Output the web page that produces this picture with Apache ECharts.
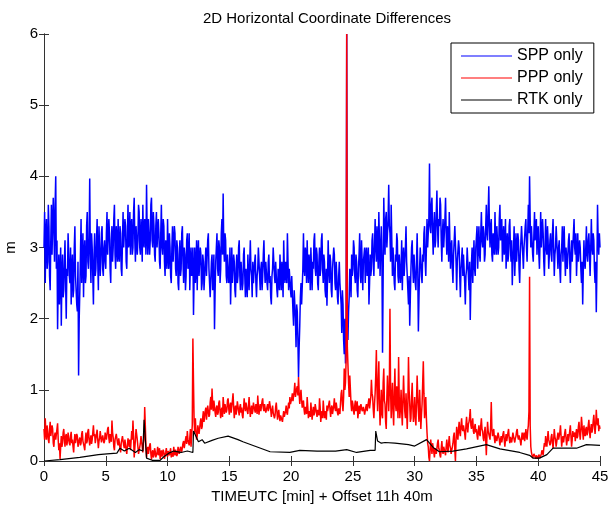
<!DOCTYPE html>
<html>
<head>
<meta charset="utf-8">
<script src="https://cdn.jsdelivr.net/npm/echarts@6/dist/echarts.min.js"></script>
<style>
  html, body { margin: 0; padding: 0; background: #fff; }
  #Chart1 { width: 611px; height: 510px; }
</style>
</head>
<body>
<div id="Chart1"></div>
<script>
// 2D horizontal coordinate differences, samples every 0.05 min (one row per minute)
var sampleStep = 0.05;

var sppValues = [
  3.0, 3.5, 2.5, 3.2, 3.4, 2.7, 2.8, 3.6, 3.3, 2.6, 2.4, 3.1, 3.6, 2.9, 2.9, 3.7, 3.3, 2.8, 3.6, 4.0,
  2.7, 3.1, 1.85, 2.5, 2.9, 2.2, 2.2, 3.0, 1.9, 2.6, 2.9, 2.3, 2.4, 2.8, 3.1, 2.5, 2.0, 2.7, 2.6, 3.2,
  3.2, 2.6, 2.5, 3.0, 2.2, 2.7, 2.9, 2.3, 2.4, 3.0, 3.3, 2.6, 2.6, 2.2, 2.1, 2.8, 1.2, 2.0, 2.4, 2.9,
  3.4, 2.5, 2.8, 3.2, 2.3, 2.9, 3.1, 2.5, 2.6, 3.3, 3.5, 2.8, 2.7, 3.1, 3.97, 2.9, 2.5, 3.2, 3.0, 2.6,
  2.2, 2.9, 3.2, 2.6, 2.7, 3.1, 3.4, 2.8, 2.4, 3.3, 3.0, 2.6, 2.8, 3.2, 3.3, 2.7, 2.6, 3.0, 3.1, 2.8,
  2.7, 3.2, 3.5, 2.9, 2.9, 3.4, 3.2, 2.7, 2.5, 3.1, 3.3, 2.8, 3.0, 3.4, 3.6, 2.9, 2.7, 3.3, 3.1, 2.8,
  3.4, 2.9, 2.8, 3.3, 3.2, 2.7, 2.6, 3.1, 3.5, 3.0, 3.0, 3.4, 3.3, 2.8, 2.7, 3.2, 3.6, 3.0, 3.1, 3.5,
  2.9, 3.3, 3.4, 2.9, 3.0, 3.5, 3.7, 3.1, 2.8, 3.3, 3.3, 2.9, 3.1, 3.6, 3.5, 3.0, 2.9, 3.4, 3.2, 2.8,
  3.6, 3.1, 3.0, 3.4, 3.3, 2.9, 3.88, 3.2, 2.9, 3.4, 3.4, 2.9, 3.1, 3.6, 3.7, 3.1, 3.0, 3.5, 3.3, 2.9,
  2.8, 3.3, 3.5, 3.0, 3.0, 3.4, 3.2, 2.8, 2.7, 3.2, 3.6, 3.0, 2.9, 3.4, 3.3, 2.8, 2.6, 3.1, 3.1, 2.7,
  3.4, 2.9, 2.7, 3.2, 3.0, 2.6, 2.5, 3.0, 3.3, 2.8, 2.8, 3.3, 3.2, 2.7, 2.6, 3.1, 3.0, 2.5, 2.4, 2.9,
  3.1, 2.6, 2.7, 3.2, 3.3, 2.8, 2.5, 3.0, 2.9, 2.4, 2.6, 3.1, 3.2, 2.7, 2.8, 3.2, 2.4, 2.8, 3.0, 2.6,
  2.6, 3.0, 2.05, 2.6, 3.0, 2.5, 2.7, 3.1, 2.4, 2.9, 3.1, 2.6, 2.6, 3.0, 2.9, 2.4, 2.5, 2.9, 2.8, 2.4,
  2.4, 2.8, 3.0, 2.6, 2.6, 3.1, 3.2, 2.7, 2.7, 2.3, 2.3, 2.8, 2.9, 2.4, 2.5, 2.9, 1.85, 2.4, 2.8, 3.0,
  3.2, 2.7, 2.6, 3.1, 3.0, 2.5, 2.7, 3.2, 3.4, 2.9, 3.76, 3.0, 2.8, 3.2, 3.1, 2.6, 2.5, 2.9, 2.9, 2.5,
  2.6, 3.0, 2.2, 2.6, 3.0, 2.5, 2.5, 2.9, 2.8, 2.4, 2.3, 2.7, 2.9, 2.5, 2.6, 3.0, 3.1, 2.6, 2.4, 2.8,
  2.8, 2.4, 2.5, 2.9, 3.0, 2.6, 2.3, 2.7, 2.7, 2.3, 2.9, 2.6, 2.4, 2.8, 3.1, 2.7, 2.6, 2.3, 2.8, 2.5,
  2.5, 2.8, 2.9, 2.5, 2.3, 2.6, 2.7, 3.0, 3.0, 2.6, 2.4, 2.7, 2.8, 2.4, 2.6, 2.9, 3.1, 2.7, 2.5, 2.8,
  2.8, 2.5, 2.4, 2.8, 2.9, 2.5, 2.6, 2.3, 2.2, 2.6, 2.7, 3.0, 3.0, 2.6, 2.5, 2.8, 2.8, 2.4, 2.3, 2.7,
  2.7, 2.4, 2.9, 2.6, 2.4, 2.8, 2.6, 2.3, 3.1, 2.7, 2.5, 2.8, 2.8, 2.5, 3.2, 2.8, 2.4, 2.7, 2.7, 2.4,
  2.3, 2.6, 2.6, 2.1, 1.9, 2.4, 2.4, 2.0, 1.6, 2.2, 2.1, 1.7, 1.18, 1.6, 1.9, 2.3, 2.5, 2.2, 2.2, 2.7,
  3.2, 2.7, 2.6, 3.0, 2.9, 2.5, 3.1, 2.7, 2.5, 2.9, 2.8, 2.4, 3.0, 2.7, 2.4, 2.8, 2.7, 3.1, 3.2, 2.7,
  2.6, 3.0, 2.9, 2.5, 2.4, 2.8, 3.0, 2.6, 2.7, 3.1, 3.2, 2.7, 2.5, 2.9, 2.8, 2.4, 2.3, 2.7, 2.18, 2.6,
  3.1, 2.7, 2.5, 2.9, 2.8, 2.4, 2.3, 2.7, 2.7, 3.0, 2.9, 2.5, 2.4, 2.8, 2.6, 2.3, 2.2, 2.6, 2.8, 2.5,
  2.5, 2.2, 1.8, 2.4, 2.2, 1.7, 1.5, 2.0, 1.37, 1.6, 6.0, 1.9, 1.7, 2.1, 2.3, 2.7, 2.6, 2.3, 2.9, 2.6,
  2.7, 3.1, 3.0, 2.6, 2.5, 2.9, 2.8, 2.4, 2.3, 2.7, 2.9, 3.2, 2.6, 2.5, 3.1, 2.8, 2.4, 2.8, 2.8, 3.0,
  2.5, 2.9, 3.0, 2.6, 2.6, 3.0, 2.2, 2.5, 2.9, 2.6, 2.7, 3.1, 3.2, 2.8, 2.6, 3.0, 3.4, 3.0, 2.8, 3.3,
  3.0, 2.7, 3.5, 3.1, 2.6, 3.0, 3.3, 2.8, 1.52, 2.6, 3.7, 3.2, 2.9, 3.4, 3.5, 3.0, 3.0, 3.4, 3.88, 3.3,
  3.2, 2.8, 3.6, 3.1, 2.6, 3.0, 3.0, 2.5, 2.4, 2.9, 2.8, 3.2, 3.1, 2.6, 2.5, 2.9, 2.9, 2.5, 2.7, 3.1,
  2.4, 2.8, 3.0, 2.6, 2.6, 3.0, 3.3, 2.8, 2.8, 2.4, 2.2, 2.6, 1.9, 2.3, 2.7, 3.0, 3.1, 2.7, 2.5, 2.9,
  2.9, 2.5, 2.4, 2.8, 3.2, 2.7, 1.82, 2.3, 2.7, 3.0, 3.0, 2.6, 2.5, 2.9, 2.8, 3.2, 3.3, 2.8, 2.6, 3.0,
  3.4, 3.0, 3.0, 3.4, 4.18, 3.3, 3.2, 3.6, 3.7, 3.2, 2.9, 3.3, 3.5, 3.0, 3.1, 3.5, 3.8, 3.3, 3.0, 3.4,
  3.3, 3.7, 3.6, 3.1, 2.8, 3.2, 3.4, 3.0, 3.0, 3.4, 3.7, 3.2, 2.9, 3.3, 3.2, 2.8, 3.5, 3.1, 2.7, 3.0,
  3.1, 2.7, 2.5, 2.9, 2.9, 3.3, 3.3, 2.8, 2.4, 2.8, 2.8, 3.1, 3.0, 2.6, 2.3, 2.7, 2.7, 3.0, 2.6, 2.9,
  2.9, 2.5, 2.2, 2.6, 2.7, 3.0, 3.0, 2.6, 2.4, 2.8, 1.98, 2.5, 2.8, 3.0, 2.5, 2.8, 3.1, 2.7, 2.6, 3.0,
  3.0, 3.3, 2.7, 3.0, 3.3, 2.9, 2.8, 3.2, 3.5, 3.1, 3.0, 3.3, 3.2, 2.8, 2.9, 3.3, 3.6, 3.2, 3.1, 3.5,
  3.86, 3.3, 3.0, 3.3, 3.4, 2.9, 2.8, 3.2, 3.2, 2.9, 3.5, 3.1, 2.9, 3.3, 3.3, 2.9, 3.0, 3.4, 3.6, 3.1,
  3.1, 3.4, 2.8, 3.1, 3.3, 2.9, 3.0, 3.4, 2.7, 3.0, 3.2, 2.8, 2.9, 3.3, 3.4, 3.0, 2.8, 3.1, 2.47, 2.8,
  3.0, 3.3, 2.6, 2.9, 3.2, 2.8, 2.8, 3.2, 3.1, 2.7, 2.5, 2.9, 2.9, 3.3, 3.3, 2.9, 2.7, 3.0, 3.0, 3.3,
  3.4, 3.0, 2.8, 3.2, 3.6, 3.2, 4.0, 3.4, 3.0, 3.3, 3.3, 2.9, 2.8, 3.2, 3.5, 3.1, 3.1, 3.4, 2.9, 3.2,
  3.3, 2.9, 2.7, 3.1, 3.5, 3.0, 3.0, 3.4, 3.2, 2.8, 2.6, 3.0, 3.4, 3.0, 2.9, 3.3, 3.1, 2.7, 2.7, 3.1,
  3.2, 2.9, 2.8, 3.2, 3.4, 3.0, 2.6, 2.9, 3.0, 3.3, 3.3, 2.9, 2.7, 3.0, 3.1, 2.7, 2.5, 2.9, 3.0, 3.3,
  2.8, 3.1, 3.3, 2.9, 2.6, 3.0, 3.0, 2.7, 2.7, 3.1, 3.2, 2.8, 2.5, 2.9, 3.1, 2.8, 2.8, 3.2, 3.4, 3.0,
  2.9, 3.2, 2.6, 2.9, 3.2, 2.8, 2.8, 3.1, 3.0, 2.7, 2.5, 2.8, 2.2, 2.7, 3.1, 2.8, 2.7, 3.0, 3.3, 2.9,
  2.8, 3.1, 3.2, 2.9, 2.6, 3.0, 3.4, 3.0, 2.9, 3.2, 3.1, 2.7, 2.5, 2.8, 2.09, 2.7, 3.6, 3.1, 2.9, 3.2,
  3.0
];

var pppValues = [
  0.45, 0.3, 0.6, 0.4, 0.3, 0.5, 0.5, 0.3, 0.25, 0.45, 0.55, 0.35, 0.35, 0.5, 0.45, 0.25, 0.2, 0.35, 0.4, 0.3,
  0.3, 0.45, 0.53, 0.3, 0.15, 0.25, 0.03, 0.2, 0.35, 0.2, 0.25, 0.4, 0.45, 0.3, 0.2, 0.35, 0.38, 0.22, 0.28, 0.4,
  0.4, 0.25, 0.22, 0.35, 0.41, 0.25, 0.3, 0.2, 0.12, 0.28, 0.38, 0.25, 0.27, 0.38, 0.35, 0.2, 0.2, 0.3, 0.33, 0.22,
  0.25, 0.38, 0.42, 0.28, 0.3, 0.2, 0.15, 0.3, 0.4, 0.25, 0.28, 0.42, 0.45, 0.3, 0.22, 0.3, 0.36, 0.24, 0.3, 0.4,
  0.5, 0.35, 0.38, 0.25, 0.26, 0.38, 0.44, 0.3, 0.18, 0.28, 0.32, 0.42, 0.4, 0.26, 0.24, 0.36, 0.35, 0.25, 0.28, 0.4,
  0.42, 0.3, 0.3, 0.45, 0.48, 0.32, 0.25, 0.38, 0.38, 0.27, 0.57, 0.4, 0.33, 0.2, 0.15, 0.3, 0.28, 0.38, 0.36, 0.25,
  0.22, 0.32, 0.3, 0.18, 0.12, 0.25, 0.25, 0.35, 0.35, 0.22, 0.18, 0.3, 0.28, 0.15, 0.1, 0.22, 0.32, 0.25, 0.2, 0.3,
  0.15, 0.28, 0.42, 0.3, 0.57, 0.35, 0.05, 0.18, 0.3, 0.45, 0.45, 0.3, 0.2, 0.1, 0.08, 0.2, 0.25, 0.35, 0.35, 0.2,
  0.12, 0.25, 0.3, 0.76, 0.5, 0.2, 0.05, 0.15, 0.2, 0.1, 0.1, 0.22, 0.25, 0.1, 0.02, 0.12, 0.15, 0.05, 0.08, 0.18,
  0.14, 0.05, 0.04, 0.12, 0.2, 0.08, 0.1, 0.18, 0.03, 0.1, 0.15, 0.06, 0.08, 0.16, 0.12, 0.03, 0.04, 0.12, 0.18, 0.1,
  0.06, 0.14, 0.16, 0.08, 0.1, 0.18, 0.05, 0.12, 0.14, 0.06, 0.2, 0.12, 0.08, 0.16, 0.15, 0.07, 0.1, 0.2, 0.18, 0.1,
  0.12, 0.2, 0.22, 0.13, 0.15, 0.25, 0.28, 0.18, 0.18, 0.3, 0.35, 0.24, 0.42, 0.3, 0.3, 0.22, 0.33, 0.45, 0.2, 0.35,
  0.5, 1.72, 1.1, 0.55, 0.4, 0.6, 0.42, 0.3, 0.35, 0.5, 0.5, 0.38, 0.4, 0.55, 0.6, 0.45, 0.48, 0.62, 0.7, 0.55,
  0.55, 0.7, 0.75, 0.58, 0.6, 0.78, 0.8, 0.62, 0.65, 0.82, 0.9, 0.72, 1.02, 0.8, 0.7, 0.85, 0.85, 0.68, 0.62, 0.75,
  0.78, 0.65, 0.68, 0.82, 0.85, 0.7, 0.6, 0.72, 0.75, 0.62, 0.9, 0.78, 0.66, 0.8, 0.8, 0.68, 0.72, 0.85, 0.88, 0.74,
  0.65, 0.78, 0.82, 0.68, 0.7, 0.85, 0.95, 0.76, 0.6, 0.72, 0.78, 0.65, 0.72, 0.84, 0.86, 0.7, 0.64, 0.76, 0.8, 0.68,
  0.75, 0.64, 0.6, 0.74, 0.88, 0.76, 0.7, 0.82, 0.82, 0.7, 0.66, 0.78, 0.9, 0.74, 0.62, 0.72, 0.78, 0.66, 0.7, 0.82,
  0.84, 0.72, 0.68, 0.8, 0.76, 0.66, 0.92, 0.78, 0.65, 0.74, 0.8, 0.7, 0.72, 0.84, 0.88, 0.74, 0.7, 0.8, 0.78, 0.68,
  0.66, 0.76, 0.8, 0.7, 0.74, 0.84, 0.86, 0.72, 0.62, 0.7, 0.78, 0.68, 0.7, 0.6, 0.64, 0.76, 0.82, 0.7, 0.58, 0.66,
  0.72, 0.62, 0.56, 0.64, 0.66, 0.58, 0.55, 0.63, 0.7, 0.62, 0.6, 0.7, 0.78, 0.68, 0.65, 0.75, 0.82, 0.74, 0.9, 0.8,
  0.78, 0.88, 0.95, 0.84, 0.85, 0.98, 1.1, 0.9, 0.9, 1.02, 1.05, 0.92, 1.18, 0.95, 0.8, 0.92, 1.0, 0.85, 0.75, 0.82,
  0.85, 0.72, 0.65, 0.76, 0.78, 0.66, 0.9, 0.76, 0.6, 0.7, 0.72, 0.62, 0.82, 0.7, 0.58, 0.68, 0.76, 0.64, 0.68, 0.8,
  0.8, 0.68, 0.62, 0.72, 0.74, 0.64, 0.88, 0.76, 0.55, 0.66, 0.7, 0.6, 0.85, 0.72, 0.6, 0.7, 0.66, 0.58, 0.78, 0.7,
  0.7, 0.8, 0.85, 0.72, 0.62, 0.74, 0.78, 0.66, 0.66, 0.78, 0.88, 0.74, 0.7, 0.82, 0.8, 0.68, 0.64, 0.74, 0.75, 0.66,
  0.82, 0.95, 1.0, 0.8, 0.7, 0.9, 1.3, 1.0, 1.1, 1.4, 6.0, 1.6, 1.6, 1.1, 0.9, 1.2, 1.2, 0.8, 0.7, 0.85,
  0.8, 0.7, 0.65, 0.78, 0.85, 0.7, 0.72, 0.84, 0.6, 0.68, 0.78, 0.66, 0.68, 0.8, 0.82, 0.7, 0.7, 0.76, 0.75, 0.65,
  0.66, 0.76, 0.8, 0.7, 0.72, 0.82, 0.88, 0.74, 0.76, 0.9, 1.14, 0.95, 0.9, 0.72, 0.6, 0.8, 0.95, 1.2, 1.56, 1.0,
  0.7, 1.1, 1.4, 0.8, 0.5, 0.75, 1.0, 0.65, 0.6, 1.1, 1.3, 0.85, 0.8, 0.55, 0.45, 0.9, 1.2, 0.95, 0.7, 1.0,
  2.14, 1.0, 0.6, 0.9, 1.1, 0.7, 0.5, 0.95, 1.3, 0.8, 0.7, 1.05, 0.9, 0.6, 1.46, 0.9, 0.6, 0.75, 1.0, 0.7,
  0.5, 0.85, 1.2, 0.9, 0.7, 0.6, 0.95, 0.7, 0.45, 0.8, 1.46, 1.0, 0.8, 0.55, 0.6, 0.9, 1.1, 0.75, 0.55, 0.7,
  0.9, 0.6, 0.5, 0.85, 1.2, 0.9, 0.7, 0.55, 1.0, 0.75, 0.45, 0.65, 0.8, 1.1, 1.4, 0.95, 0.6, 0.75, 0.9, 0.6,
  0.4, 0.25, 0.2, 0.05, 0.0, 0.15, 0.3, 0.2, 0.1, 0.25, 0.25, 0.12, 0.05, 0.18, 0.2, 0.1, 0.12, 0.25, 0.3, 0.18,
  0.15, 0.08, 0.05, 0.18, 0.28, 0.15, 0.1, 0.2, 0.22, 0.12, 0.08, 0.2, 0.3, 0.18, 0.12, 0.25, 0.35, 0.22, 0.18, 0.1,
  0.1, 0.2, 0.25, 0.35, 0.4, 0.15, 0.0, 0.3, 0.48, 0.35, 0.3, 0.45, 0.55, 0.4, 0.35, 0.5, 0.6, 0.45, 0.42, 0.5,
  0.5, 0.38, 0.3, 0.5, 0.62, 0.48, 0.4, 0.52, 0.55, 0.62, 0.73, 0.5, 0.45, 0.55, 0.6, 0.42, 0.38, 0.48, 0.52, 0.4,
  0.45, 0.36, 0.3, 0.42, 0.5, 0.38, 0.35, 0.5, 0.6, 0.45, 0.42, 0.32, 0.28, 0.4, 0.48, 0.3, 0.08, 0.35, 0.55, 0.42,
  0.4, 0.34, 0.3, 0.5, 0.83, 0.45, 0.35, 0.4, 0.45, 0.32, 0.25, 0.36, 0.38, 0.28, 0.3, 0.4, 0.42, 0.3, 0.22, 0.3,
  0.35, 0.26, 0.28, 0.38, 0.42, 0.3, 0.2, 0.3, 0.38, 0.28, 0.3, 0.4, 0.45, 0.32, 0.25, 0.34, 0.36, 0.26, 0.32, 0.4,
  0.4, 0.3, 0.26, 0.32, 0.35, 0.42, 0.45, 0.34, 0.3, 0.36, 0.38, 0.28, 0.22, 0.32, 0.4, 0.3, 0.33, 0.4, 0.28, 0.34,
  0.45, 0.35, 0.3, 0.42, 0.5, 0.7, 2.59, 0.5, 0.2, 0.12, 0.1, 0.04, 0.05, 0.1, 0.12, 0.06, 0.03, 0.08, 0.08, 0.03,
  0.05, 0.09, 0.1, 0.04, 0.02, 0.1, 0.15, 0.12, 0.08, 0.18, 0.25, 0.2, 0.35, 0.26, 0.2, 0.32, 0.42, 0.3, 0.3, 0.22,
  0.25, 0.34, 0.38, 0.26, 0.18, 0.3, 0.45, 0.34, 0.3, 0.2, 0.22, 0.34, 0.4, 0.3, 0.28, 0.4, 0.5, 0.35, 0.2, 0.3,
  0.35, 0.26, 0.28, 0.4, 0.45, 0.32, 0.22, 0.3, 0.38, 0.28, 0.3, 0.42, 0.5, 0.35, 0.2, 0.3, 0.42, 0.34, 0.32, 0.4,
  0.28, 0.38, 0.45, 0.32, 0.35, 0.48, 0.55, 0.4, 0.3, 0.42, 0.62, 0.5, 0.4, 0.3, 0.5, 0.38, 0.35, 0.45, 0.48, 0.36,
  0.4, 0.5, 0.58, 0.42, 0.32, 0.45, 0.52, 0.4, 0.45, 0.56, 0.65, 0.5, 0.38, 0.5, 0.72, 0.55, 0.5, 0.6, 0.42, 0.5,
  0.45
];

// RTK is smooth, read at its turning points
var rtkTime = [
  0, 1.3, 2.9, 4.4, 5.1, 5.9, 6.15, 6.5, 6.9, 7.4, 7.7, 8.0, 8.1, 8.3, 8.75, 9.4, 9.7,
  10.1, 10.5, 11.1, 11.6, 12.05, 12.1, 12.2, 12.5, 12.8, 13.0, 13.6, 14.1, 14.9, 15.7,
  16.1, 17.2, 18.3, 19.9, 20.7, 22.1, 23.6, 24.5, 25.3, 26.4, 26.8, 26.85, 27.0, 27.3,
  27.6, 28.4, 29.5, 30.0, 30.96, 31.5, 32.0, 33.1, 34.2, 35.8, 36.9, 38.5, 39.3, 39.6,
  40.1, 40.7, 41.2, 42.3, 43.1, 43.9, 45
];
var rtkValues = [
  0.0, 0.02, 0.05, 0.09, 0.1, 0.11, 0.18, 0.14, 0.18, 0.12, 0.16, 0.14, 0.58, 0.04, 0.01, 0.01, 0.06,
  0.11, 0.14, 0.12, 0.14, 0.12, 0.42, 0.4, 0.27, 0.3, 0.25, 0.29, 0.32, 0.35, 0.3,
  0.27, 0.2, 0.13, 0.12, 0.15, 0.14, 0.14, 0.16, 0.12, 0.15, 0.15, 0.42, 0.28, 0.25,
  0.26, 0.25, 0.23, 0.21, 0.3, 0.19, 0.13, 0.14, 0.17, 0.23, 0.17, 0.12, 0.08, 0.04,
  0.04, 0.09, 0.18, 0.18, 0.18, 0.23, 0.22
];

var seriesNames = ["SPP only", "PPP only", "RTK only"];
var seriesColors = ["#0000ff", "#ff0000", "#000000"];
var seriesWidths = [1.5, 1.5, 1.2];
var xTicks = { min: 0, max: 45, interval: 5 };
var yTicks = { min: 0, max: 6, interval: 1 };

function sampled(values) {
  return values.map(function (v, i) {
    return [Math.round(i * sampleStep * 100) / 100, v];
  });
}

var rtkData = rtkTime.map(function (t, i) {
  return [t, rtkValues[i]];
});

var fontFamily = "'Liberation Sans', Arial, Helvetica, sans-serif";
var axisColor = "#333";

function lineSeries(idx, data) {
  return {
    name: seriesNames[idx],
    type: "line",
    data: data,
    symbol: "none",
    showSymbol: false,
    animation: false,
    lineStyle: { color: seriesColors[idx], width: seriesWidths[idx] },
    itemStyle: { color: seriesColors[idx] },
    emphasis: { disabled: true },
    z: 2
  };
}

var Chart1 = echarts.init(document.getElementById("Chart1"));
var option = {
  backgroundColor: "#fff",
  animation: false,
  title: {
    text: "2D Horizontal Coordinate Differences",
    left: 322,
    textAlign: "center",
    top: 6,
    textStyle: {
      fontFamily: fontFamily,
      fontSize: 15,
      fontWeight: "normal",
      color: "#000"
    }
  },
  legend: {
    orient: "vertical",
    left: 451,
    top: 43,
    padding: [4, 11, 4, 10],
    icon: "rect",
    itemWidth: 51,
    itemHeight: 1,
    itemGap: 4,
    borderColor: "#000",
    borderWidth: 1,
    backgroundColor: "#fff",
    data: seriesNames,
    textStyle: {
      fontFamily: fontFamily,
      fontSize: 16,
      lineHeight: 18,
      color: "#000"
    }
  },
  grid: {
    left: 44,
    right: 11,
    top: 34,
    bottom: 49,
    containLabel: false,
    outerBoundsMode: "none"
  },
  xAxis: [
    {
      type: "value",
      min: xTicks.min,
      max: xTicks.max,
      interval: xTicks.interval,
      name: "TIMEUTC [min] + Offset 11h 40m",
      nameLocation: "middle",
      nameGap: 22,
      nameTextStyle: { fontFamily: fontFamily, fontSize: 15, color: "#000" },
      axisLine: { show: true, lineStyle: { color: axisColor, width: 1 } },
      axisTick: { show: true, inside: true, length: 5, lineStyle: { color: axisColor } },
      axisLabel: { fontFamily: fontFamily, fontSize: 15, color: "#000", margin: 8 },
      splitLine: { show: false }
    },
    {
      type: "value",
      position: "top",
      min: xTicks.min,
      max: xTicks.max,
      interval: xTicks.interval,
      axisLine: { show: true, lineStyle: { color: axisColor, width: 1 } },
      axisTick: { show: true, inside: true, length: 5, lineStyle: { color: axisColor } },
      axisLabel: { show: false },
      splitLine: { show: false }
    }
  ],
  yAxis: [
    {
      type: "value",
      min: yTicks.min,
      max: yTicks.max,
      interval: yTicks.interval,
      name: "m",
      nameLocation: "middle",
      nameRotate: 90,
      nameGap: 21,
      nameTextStyle: { fontFamily: fontFamily, fontSize: 15, color: "#000" },
      axisLine: { show: true, lineStyle: { color: axisColor, width: 1 } },
      axisTick: { show: true, inside: true, length: 5, lineStyle: { color: axisColor } },
      axisLabel: { fontFamily: fontFamily, fontSize: 15, color: "#000", margin: 6 },
      splitLine: { show: false }
    },
    {
      type: "value",
      position: "right",
      min: yTicks.min,
      max: yTicks.max,
      interval: yTicks.interval,
      axisLine: { show: true, lineStyle: { color: axisColor, width: 1 } },
      axisTick: { show: true, inside: true, length: 5, lineStyle: { color: axisColor } },
      axisLabel: { show: false },
      splitLine: { show: false }
    }
  ],
  series: [
    lineSeries(0, sampled(sppValues)),
    lineSeries(1, sampled(pppValues)),
    lineSeries(2, rtkData)
  ]
};

Chart1.setOption(option);
</script>
</body>
</html>
